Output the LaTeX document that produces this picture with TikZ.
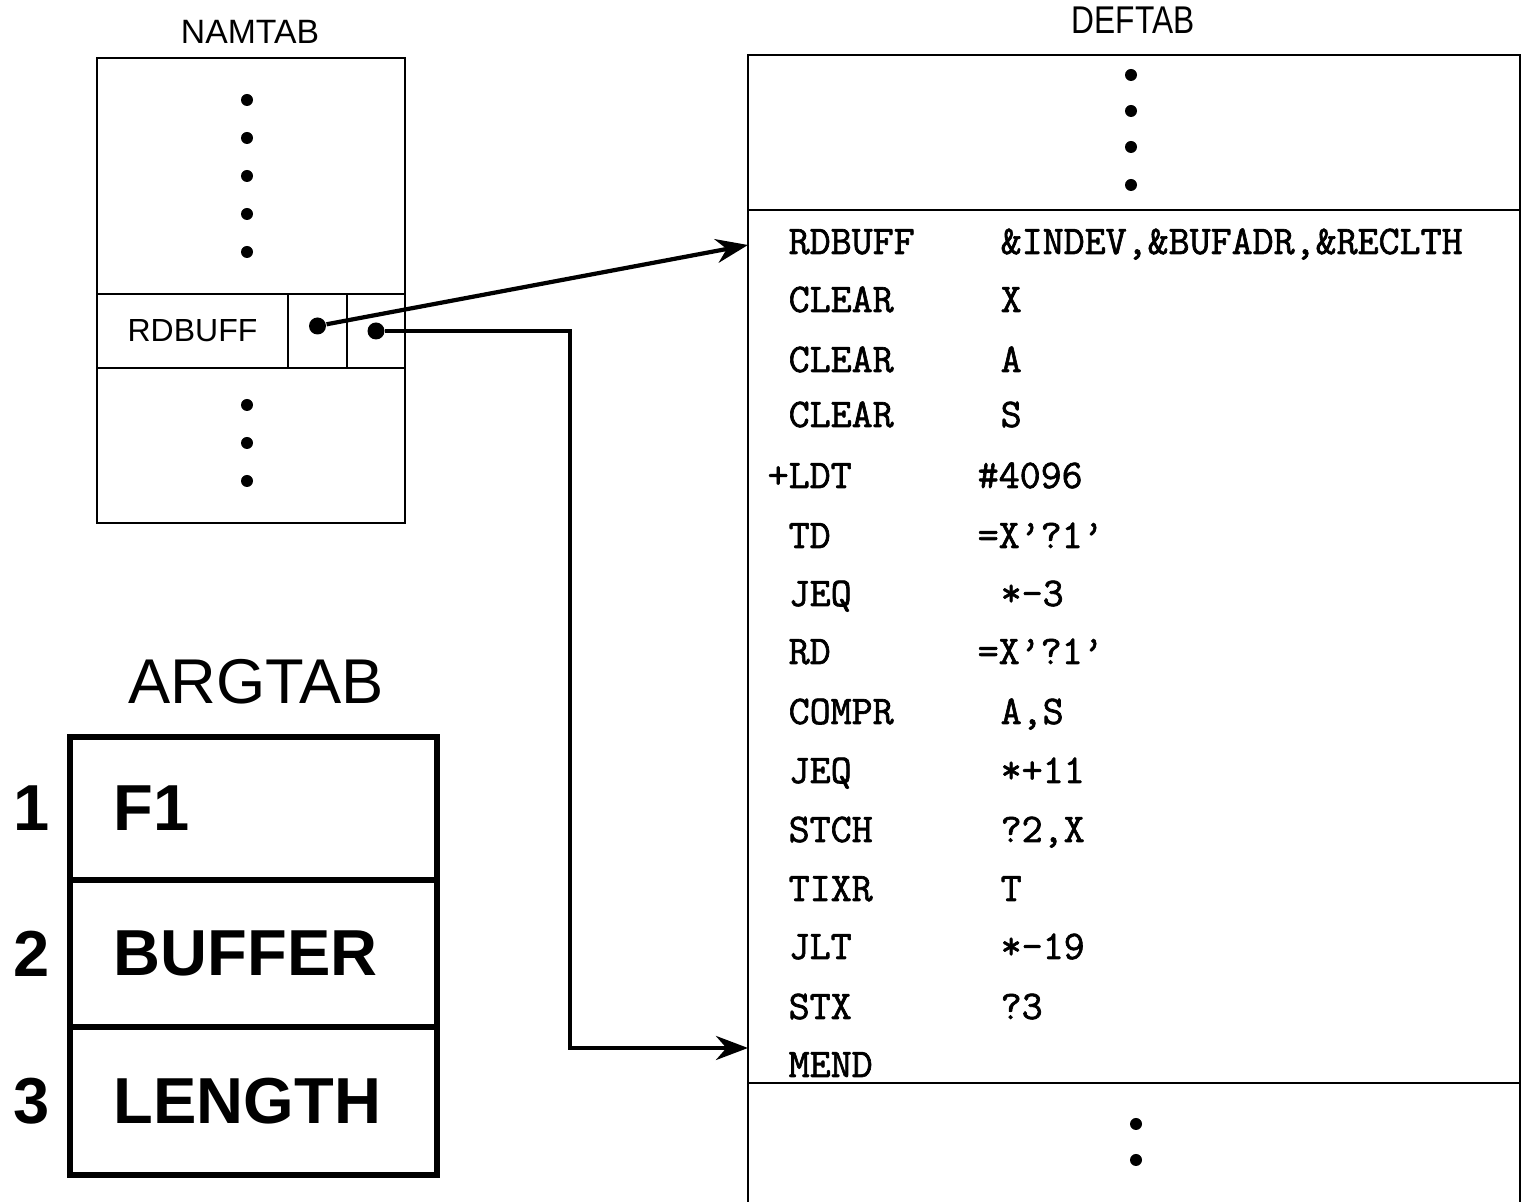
\documentclass[tikz,border=0pt]{standalone}
\usepackage{fontspec}
\setmainfont{Liberation Sans}
\newfontfamily\codefont[FakeBold=1.6]{Latin Modern Mono}
\usetikzlibrary{arrows.meta,positioning,calc}

\tikzset{
  tab/.style={draw, line width=0.8pt, anchor=north west, inner sep=0pt, outer sep=0pt},
  arg/.style={draw, line width=1.7pt, anchor=north west, inner sep=0pt, outer sep=0pt,
              minimum width=3.67cm},
  dot/.style={circle, fill, inner sep=0pt, minimum size=0.12cm},
  ptr/.style={circle, fill, inner sep=0pt, minimum size=0.17cm},
  op/.style={anchor=base west, inner sep=0pt,
             font=\codefont\fontsize{11.6}{13}\selectfont},
  argtxt/.style={inner sep=0pt, font=\bfseries\fontsize{18.5}{22}\selectfont},
}

\begin{document}
\begin{tikzpicture}[>={Stealth[length=0.32cm,width=0.24cm]}]
\useasboundingbox (0,0) rectangle (15.23,-12.02);

% NAMTAB
\node[font=\fontsize{9.6}{11}\selectfont] (namtitle) at (2.50,-0.32) {NAMTAB};
\node[tab, minimum width=3.08cm, minimum height=2.36cm] (namtop) at (0.97,-0.58) {};
\node[tab, minimum width=1.91cm, minimum height=0.74cm,
      font=\fontsize{9.1}{11}\selectfont] (namname) at (namtop.south west) {RDBUFF};
\node[tab, minimum width=0.59cm, minimum height=0.74cm] (namdef) at (namname.north east) {};
\node[tab, minimum width=0.58cm, minimum height=0.74cm] (namend) at (namdef.north east) {};
\node[tab, minimum width=3.08cm, minimum height=1.55cm] (nambot) at (namname.south west) {};
\foreach \y [count=\i] in {1.00,1.38,1.76,2.14,2.52}
  \node[dot] (ntop\i) at (2.47,-\y) {};
\foreach \y [count=\i] in {4.05,4.43,4.81}
  \node[dot] (nbot\i) at (2.47,-\y) {};
\node[ptr] (p1) at ([yshift=0.05cm]namdef.center) {};
\node[ptr] (p2) at (namend.center) {};

% DEFTAB
\node[font=\fontsize{11}{12}\selectfont] (deftitle) at (11.33,-0.20) {\scalebox{0.82}[1]{DEFTAB}};
\node[tab, minimum width=7.72cm, minimum height=1.55cm] (deftop) at (7.48,-0.55) {};
\node[tab, minimum width=7.72cm, minimum height=8.73cm] (defcode) at (deftop.south west) {};
\node[tab, minimum width=7.72cm, minimum height=1.30cm] (defbot) at (defcode.south west) {};
\foreach \y [count=\i] in {0.75,1.11,1.47,1.85}
  \node[dot] (dtop\i) at (11.31,-\y) {};
\foreach \y [count=\i] in {11.24,11.60}
  \node[dot] (dbot\i) at (11.36,-\y) {};

\node[op] (o1) at (7.88,-2.54) {RDBUFF};
\node[op] (a1) at (10.00,-2.54) {\&INDEV,\&BUFADR,\&RECLTH};
\node[op] (o2) at (7.88,-3.12) {CLEAR};
\node[op] (a2) at (10.00,-3.12) {X};
\node[op] (o3) at (7.88,-3.72) {CLEAR};
\node[op] (a3) at (10.00,-3.72) {A};
\node[op] (o4) at (7.88,-4.27) {CLEAR};
\node[op] (a4) at (10.00,-4.27) {S};
\node[op] (o5) at (7.67,-4.88) {+LDT};
\node[op] (a5) at (9.77,-4.88) {\#4096};
\node[op] (o6) at (7.88,-5.48) {TD};
\node[op] (a6) at (9.77,-5.48) {=X’?1’};
\node[op] (o7) at (7.88,-6.06) {JEQ};
\node[op] (a7) at (10.00,-6.06) {*–3};
\node[op] (o8) at (7.88,-6.64) {RD};
\node[op] (a8) at (9.77,-6.64) {=X’?1’};
\node[op] (o9) at (7.88,-7.24) {COMPR};
\node[op] (a9) at (10.00,-7.24) {A,S};
\node[op] (o10) at (7.88,-7.83) {JEQ};
\node[op] (a10) at (10.00,-7.83) {*+11};
\node[op] (o11) at (7.88,-8.42) {STCH};
\node[op] (a11) at (10.00,-8.42) {?2,X};
\node[op] (o12) at (7.88,-9.01) {TIXR};
\node[op] (a12) at (10.00,-9.01) {T};
\node[op] (o13) at (7.88,-9.59) {JLT};
\node[op] (a13) at (10.00,-9.59) {*–19};
\node[op] (o14) at (7.88,-10.19) {STX};
\node[op] (a14) at (10.00,-10.19) {?3};
\node[op] (o15) at (7.88,-10.77) {MEND};

% pointers
\coordinate (in1) at ([yshift=-0.35cm]defcode.north west);
\coordinate (in2) at ([yshift=0.35cm]defcode.south west);
\coordinate (bend) at (5.70,0);
\draw[->, line width=1.2pt] (p1) -- (in1);
\draw[->, line width=1.2pt] (p2) -- (p2 -| bend) |- (in2);

% ARGTAB
\node[font=\fontsize{18}{21}\selectfont] (argtitle) at (2.56,-6.82) {ARGTAB};
\node[arg, minimum height=1.43cm] (r1) at (0.70,-7.37) {};
\node[arg, minimum height=1.47cm] (r2) at (r1.south west) {};
\node[arg, minimum height=1.48cm] (r3) at (r2.south west) {};
\node[argtxt, anchor=west] (t1) at ([xshift=0.43cm]r1.west) {F1};
\node[argtxt, anchor=west] (t2) at ([xshift=0.43cm]r2.west) {BUFFER};
\node[argtxt, anchor=west] (t3) at ([xshift=0.43cm]r3.west) {LENGTH};
\node[argtxt, left=0.2cm of r1] (n1) {1};
\node[argtxt, left=0.2cm of r2] (n2) {2};
\node[argtxt, left=0.2cm of r3] (n3) {3};
\end{tikzpicture}
\end{document}
